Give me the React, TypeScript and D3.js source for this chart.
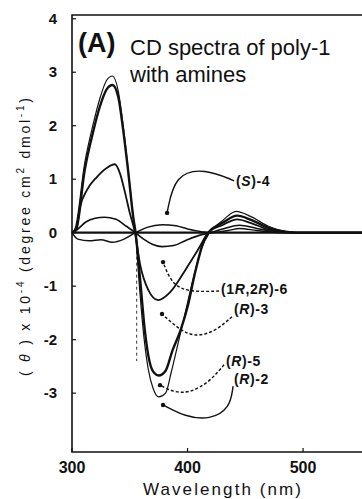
import React from 'react'
import * as d3 from 'd3'

// wavelength (nm) / [theta] x 10^-4 pairs
const curveR2 = [[300, 0], [303.5, 0.05], [311, 1.17], [318, 1.86], [324, 2.35], [330, 2.68], [335, 2.76], [340, 2.54], [344, 1.97], [348.5, 1.17], [353, 0.29], [355, 0], [359, -0.88], [363, -1.82], [367, -2.4], [371, -2.62], [375, -2.67], [381, -2.58], [387, -2.2], [394, -1.82], [400, -1.39], [406.5, -0.75], [414, -0.16], [418, 0], [430, 0.18], [443, 0.32], [455, 0.24], [470, 0.09], [485, 0.02], [495, 0], [551, 0]]
const curveR5 = [[300, 0], [303, 0.1], [311, 1.3], [318, 2.0], [324, 2.5], [330, 2.85], [335, 2.93], [340, 2.65], [344, 2.05], [348.5, 1.2], [353, 0.3], [355, 0], [358, -0.9], [362, -1.9], [366, -2.55], [370, -2.9], [375, -3.07], [381, -3.0], [386, -2.6], [392, -2.05], [398, -1.5], [405, -0.85], [412, -0.3], [419, 0], [430, 0.22], [442, 0.4], [455, 0.3], [470, 0.12], [485, 0.02], [495, 0], [551, 0]]
const curve6 = [[300, 0], [303.5, 0.05], [307, 0.48], [313, 0.8], [321.5, 1.04], [330, 1.21], [337, 1.28], [341.5, 1.11], [346, 0.74], [350, 0.37], [354.5, 0], [359, -0.6], [366, -1.07], [374.5, -1.26], [385, -1.11], [398, -0.7], [409, -0.32], [418, 0], [430, 0.14], [443, 0.25], [455, 0.18], [470, 0.06], [485, 0.01], [495, 0], [551, 0]]
const curveSmall = [[300, 0], [304, 0.05], [312, 0.2], [320, 0.27], [328, 0.29], [338, 0.25], [347, 0.12], [355, 0], [362, -0.12], [370, -0.22], [378, -0.26], [388, -0.24], [398, -0.15], [410, -0.05], [420, 0], [432, 0.08], [445, 0.14], [460, 0.08], [480, 0.01], [495, 0], [551, 0]]
const curveS4 = [[300, 0], [305, -0.12], [315, -0.15], [325, -0.13], [335, -0.18], [345, -0.12], [355, 0], [365, 0.1], [378, 0.15], [390, 0.13], [400, 0.07], [412, 0.02], [420, 0], [435, 0.04], [445, 0.08], [460, 0.04], [480, 0], [551, 0]]
const curves = [
  { data: curveR5, width: 1.2 },
  { data: curveR2, width: 2.4 },
  { data: curve6, width: 1.8 },
  { data: curveSmall, width: 1.6 },
  { data: curveS4, width: 1.5 },
]

const xTicks = [300, 400, 500]
const yTicks = [-3, -2, -1, 0, 1, 2, 3, 4]
const guide = [[356, 0], [356, -2.4]]

// annotation arrows, in data units
const arrowS4 = [[440.3, 0.97], [415.2, 1.2], [389, 1.1], [382.3, 0.37]]
const arrow6 = [[427.3, -1.09], [402.2, -1.11], [386.6, -0.98], [378.8, -0.55]]
const arrow3 = [[438.5, -1.57], [423.8, -1.85], [406.5, -1.95], [393.5, -1.82], [377.9, -1.52]]
const arrow5 = [[431.6, -2.47], [419.5, -2.78], [402.2, -3.0], [387.4, -2.98], [376.2, -2.85]]
const arrow2 = [[439.4, -2.87], [436.8, -3.28], [419.5, -3.5], [397.8, -3.44], [378.8, -3.22]]
const labels = [
  { at: [442, 0.87], parts: [['(', false], ['S', true], [')-4', false]] },
  { at: [429, -1.15], parts: [['(1', false], ['R', true], [',2', false], ['R', true], [')-6', false]] },
  { at: [440.3, -1.52], parts: [['(', false], ['R', true], [')-3', false]] },
  { at: [433.3, -2.49], parts: [['(', false], ['R', true], [')-5', false]] },
  { at: [440.3, -2.83], parts: [['(', false], ['R', true], [')-2', false]] },
]
const arrows = [
  { pts: arrowS4, dash: 'none' },
  { pts: arrow6, dash: '3 2' },
  { pts: arrow3, dash: '3 2' },
  { pts: arrow5, dash: '3 2' },
  { pts: arrow2, dash: 'none' },
]

const W = 362
const H = 499
const font = '"Liberation Sans", Arial, sans-serif'

export default function App() {
  const x = d3.scaleLinear().domain([300, 551]).range([72, 362])
  const y = d3.scaleLinear().domain([-4.1, 4.07]).range([452, 15])
  const line = d3.line<number[]>().x(d => x(d[0])).y(d => y(d[1])).curve(d3.curveMonotoneX)
  const arrowLine = d3.line<number[]>().x(d => x(d[0])).y(d => y(d[1])).curve(d3.curveBasis)

  return (
    <svg width={W} height={H} style={{ position: 'absolute', left: 0, top: 0, background: '#fff' }} fontFamily={font}>
      {/* frame */}
      <path d={`M${W},${y(4.07)}H${x(300)}V${y(-4.1)}H${W}`} fill="none" stroke="#111" strokeWidth={1.6} />
      {yTicks.map(t => (
        <g key={t}>
          <line x1={x(300)} x2={x(300) + 4} y1={y(t)} y2={y(t)} stroke="#111" strokeWidth={1.2} />
          <text x={57} y={y(t)} dy="0.35em" textAnchor="end" fontSize={15} fontWeight="bold" fill="#111">{t}</text>
        </g>
      ))}
      {xTicks.map(t => (
        <g key={t}>
          <line x1={x(t)} x2={x(t)} y1={y(-4.1)} y2={y(-4.1) - 4} stroke="#111" strokeWidth={1.2} />
          <text x={x(t)} y={473} textAnchor="middle" fontSize={16} fontWeight="bold" fill="#111">{t}</text>
        </g>
      ))}

      {/* zero line + guide */}
      <line x1={x(300)} x2={W} y1={y(0)} y2={y(0)} stroke="#111" strokeWidth={2.2} />
      <path d={line(guide) || ''} fill="none" stroke="#333" strokeWidth={1} strokeDasharray="3 3" />

      {curves.map((c, i) => (
        <path key={i} d={line(c.data) || ''} fill="none" stroke="#111" strokeWidth={c.width} strokeLinejoin="round" />
      ))}

      {/* annotations */}
      {arrows.map((a, i) => {
        const tip = a.pts[a.pts.length - 1]
        return (
          <g key={i}>
            <path d={arrowLine(a.pts) || ''} fill="none" stroke="#111" strokeWidth={1.4} strokeDasharray={a.dash} />
            <circle cx={x(tip[0])} cy={y(tip[1])} r={2.2} fill="#111" />
          </g>
        )
      })}
      {labels.map((l, i) => (
        <text key={i} x={x(l.at[0])} y={y(l.at[1])} fontSize={14} fontWeight="bold" fill="#111" letterSpacing={0.6}>
          {l.parts.map((p, j) => (
            <tspan key={j} fontStyle={p[1] ? 'italic' : 'normal'}>{p[0] as string}</tspan>
          ))}
        </text>
      ))}

      {/* titles */}
      <text x={78} y={52} fontSize={27} fontWeight="bold" fill="#111">(A)</text>
      <text x={130} y={55} fontSize={22} fill="#111">CD spectra of poly-1</text>
      <text x={130} y={82} fontSize={22} fill="#111">with amines</text>

      <text x={222} y={495} textAnchor="middle" fontSize={17} fill="#111" textLength={158} lengthAdjust="spacing">Wavelength (nm)</text>
      <text transform="translate(30,237) rotate(-90)" textAnchor="middle" fontSize={14} fill="#111" textLength={278} lengthAdjust="spacing">
        ( <tspan fontStyle="italic">θ</tspan> ) x 10<tspan fontSize={10} dy={-6}>-4</tspan>
        <tspan dy={6}> (degree cm</tspan><tspan fontSize={10} dy={-6}>2</tspan>
        <tspan dy={6}> dmol</tspan><tspan fontSize={10} dy={-6}>-1</tspan><tspan dy={6}>)</tspan>
      </text>
    </svg>
  )
}
